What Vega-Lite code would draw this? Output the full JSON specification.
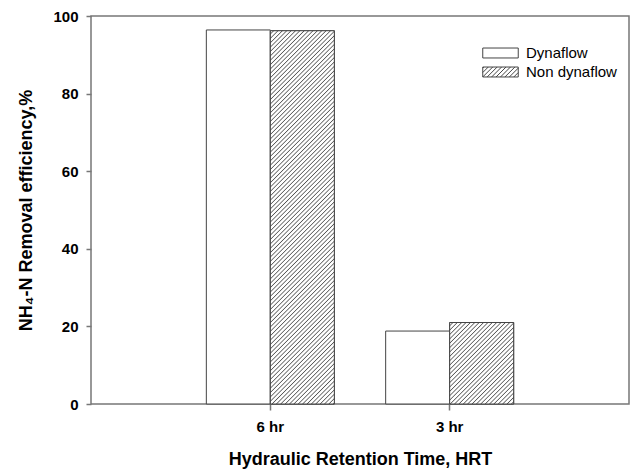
{
"$schema": "https://vega.github.io/schema/vega-lite/v6.json",
"width": 538,
"height": 388,
"autosize": {"type": "none"},
"padding": {"left": 91, "top": 16, "right": 6, "bottom": 65},
"background": "white",
"config": {
  "font": "Liberation Sans",
  "view": {"stroke": "#777", "strokeWidth": 1.5},
  "axis": {"grid": false, "domain": false, "tickColor": "#777", "tickWidth": 1.5, "labelColor": "#000", "titleColor": "#000", "labelFont": "Liberation Sans", "titleFont": "Liberation Sans", "labelFontWeight": "bold", "titleFontWeight": "bold", "labelFontSize": 15, "titleFontSize": 18}
},
"data": {"values": [
  {"HRT": "6 hr", "Series": "Dynaflow", "Removal": 96.4},
  {"HRT": "6 hr", "Series": "Non dynaflow", "Removal": 96.2},
  {"HRT": "3 hr", "Series": "Dynaflow", "Removal": 18.8},
  {"HRT": "3 hr", "Series": "Non dynaflow", "Removal": 21.0}
]},
"encoding": {
  "x": {"field": "HRT", "type": "nominal", "sort": ["6 hr", "3 hr"], "scale": {"paddingInner": 0.2862, "paddingOuter": 0.6431},
        "axis": {"title": "Hydraulic Retention Time, HRT", "labelAngle": 0, "tickSize": 6, "labelPadding": 9, "titlePadding": 16}},
  "xOffset": {"field": "Series", "type": "nominal", "sort": ["Dynaflow", "Non dynaflow"], "scale": {"paddingInner": 0, "paddingOuter": 0}},
  "y": {"field": "Removal", "type": "quantitative", "scale": {"domain": [0, 100], "nice": false},
        "axis": {"title": "NH₄-N Removal efficiency,%", "values": [0, 20, 40, 60, 80, 100], "tickSize": 5, "labelPadding": 8, "titlePadding": 17}}
},
"layer": [
  {
    "mark": {"type": "bar", "stroke": "#444", "strokeWidth": 1, "fill": "#ffffff"}
  },
  {
    "transform": [{"filter": "datum.Series === 'Non dynaflow' && datum.HRT === '6 hr'"}],
    "mark": {"type": "bar", "stroke": "#444", "strokeWidth": 1, "fill": {"gradient": "linear", "x1": 0, "y1": 0, "x2": 0.1951, "y2": 1.138, "stops": [
{"offset":0,"color":"#fff"},
{"offset":0.005,"color":"#fff"},{"offset":0.0075,"color":"#555"},{"offset":0.01,"color":"#fff"},
{"offset":0.015,"color":"#fff"},{"offset":0.0175,"color":"#555"},{"offset":0.02,"color":"#fff"},
{"offset":0.025,"color":"#fff"},{"offset":0.0275,"color":"#555"},{"offset":0.03,"color":"#fff"},
{"offset":0.035,"color":"#fff"},{"offset":0.0375,"color":"#555"},{"offset":0.04,"color":"#fff"},
{"offset":0.045,"color":"#fff"},{"offset":0.0475,"color":"#555"},{"offset":0.05,"color":"#fff"},
{"offset":0.055,"color":"#fff"},{"offset":0.0575,"color":"#555"},{"offset":0.06,"color":"#fff"},
{"offset":0.065,"color":"#fff"},{"offset":0.0675,"color":"#555"},{"offset":0.07,"color":"#fff"},
{"offset":0.075,"color":"#fff"},{"offset":0.0775,"color":"#555"},{"offset":0.08,"color":"#fff"},
{"offset":0.085,"color":"#fff"},{"offset":0.0875,"color":"#555"},{"offset":0.09,"color":"#fff"},
{"offset":0.095,"color":"#fff"},{"offset":0.0975,"color":"#555"},{"offset":0.1,"color":"#fff"},
{"offset":0.105,"color":"#fff"},{"offset":0.1075,"color":"#555"},{"offset":0.11,"color":"#fff"},
{"offset":0.115,"color":"#fff"},{"offset":0.1175,"color":"#555"},{"offset":0.12,"color":"#fff"},
{"offset":0.125,"color":"#fff"},{"offset":0.1275,"color":"#555"},{"offset":0.13,"color":"#fff"},
{"offset":0.135,"color":"#fff"},{"offset":0.1375,"color":"#555"},{"offset":0.14,"color":"#fff"},
{"offset":0.145,"color":"#fff"},{"offset":0.1475,"color":"#555"},{"offset":0.15,"color":"#fff"},
{"offset":0.155,"color":"#fff"},{"offset":0.1575,"color":"#555"},{"offset":0.16,"color":"#fff"},
{"offset":0.165,"color":"#fff"},{"offset":0.1675,"color":"#555"},{"offset":0.17,"color":"#fff"},
{"offset":0.175,"color":"#fff"},{"offset":0.1775,"color":"#555"},{"offset":0.18,"color":"#fff"},
{"offset":0.185,"color":"#fff"},{"offset":0.1875,"color":"#555"},{"offset":0.19,"color":"#fff"},
{"offset":0.195,"color":"#fff"},{"offset":0.1975,"color":"#555"},{"offset":0.2,"color":"#fff"},
{"offset":0.205,"color":"#fff"},{"offset":0.2075,"color":"#555"},{"offset":0.21,"color":"#fff"},
{"offset":0.215,"color":"#fff"},{"offset":0.2175,"color":"#555"},{"offset":0.22,"color":"#fff"},
{"offset":0.225,"color":"#fff"},{"offset":0.2275,"color":"#555"},{"offset":0.23,"color":"#fff"},
{"offset":0.235,"color":"#fff"},{"offset":0.2375,"color":"#555"},{"offset":0.24,"color":"#fff"},
{"offset":0.245,"color":"#fff"},{"offset":0.2475,"color":"#555"},{"offset":0.25,"color":"#fff"},
{"offset":0.255,"color":"#fff"},{"offset":0.2575,"color":"#555"},{"offset":0.26,"color":"#fff"},
{"offset":0.265,"color":"#fff"},{"offset":0.2675,"color":"#555"},{"offset":0.27,"color":"#fff"},
{"offset":0.275,"color":"#fff"},{"offset":0.2775,"color":"#555"},{"offset":0.28,"color":"#fff"},
{"offset":0.285,"color":"#fff"},{"offset":0.2875,"color":"#555"},{"offset":0.29,"color":"#fff"},
{"offset":0.295,"color":"#fff"},{"offset":0.2975,"color":"#555"},{"offset":0.3,"color":"#fff"},
{"offset":0.305,"color":"#fff"},{"offset":0.3075,"color":"#555"},{"offset":0.31,"color":"#fff"},
{"offset":0.315,"color":"#fff"},{"offset":0.3175,"color":"#555"},{"offset":0.32,"color":"#fff"},
{"offset":0.325,"color":"#fff"},{"offset":0.3275,"color":"#555"},{"offset":0.33,"color":"#fff"},
{"offset":0.335,"color":"#fff"},{"offset":0.3375,"color":"#555"},{"offset":0.34,"color":"#fff"},
{"offset":0.345,"color":"#fff"},{"offset":0.3475,"color":"#555"},{"offset":0.35,"color":"#fff"},
{"offset":0.355,"color":"#fff"},{"offset":0.3575,"color":"#555"},{"offset":0.36,"color":"#fff"},
{"offset":0.365,"color":"#fff"},{"offset":0.3675,"color":"#555"},{"offset":0.37,"color":"#fff"},
{"offset":0.375,"color":"#fff"},{"offset":0.3775,"color":"#555"},{"offset":0.38,"color":"#fff"},
{"offset":0.385,"color":"#fff"},{"offset":0.3875,"color":"#555"},{"offset":0.39,"color":"#fff"},
{"offset":0.395,"color":"#fff"},{"offset":0.3975,"color":"#555"},{"offset":0.4,"color":"#fff"},
{"offset":0.405,"color":"#fff"},{"offset":0.4075,"color":"#555"},{"offset":0.41,"color":"#fff"},
{"offset":0.415,"color":"#fff"},{"offset":0.4175,"color":"#555"},{"offset":0.42,"color":"#fff"},
{"offset":0.425,"color":"#fff"},{"offset":0.4275,"color":"#555"},{"offset":0.43,"color":"#fff"},
{"offset":0.435,"color":"#fff"},{"offset":0.4375,"color":"#555"},{"offset":0.44,"color":"#fff"},
{"offset":0.445,"color":"#fff"},{"offset":0.4475,"color":"#555"},{"offset":0.45,"color":"#fff"},
{"offset":0.455,"color":"#fff"},{"offset":0.4575,"color":"#555"},{"offset":0.46,"color":"#fff"},
{"offset":0.465,"color":"#fff"},{"offset":0.4675,"color":"#555"},{"offset":0.47,"color":"#fff"},
{"offset":0.475,"color":"#fff"},{"offset":0.4775,"color":"#555"},{"offset":0.48,"color":"#fff"},
{"offset":0.485,"color":"#fff"},{"offset":0.4875,"color":"#555"},{"offset":0.49,"color":"#fff"},
{"offset":0.495,"color":"#fff"},{"offset":0.4975,"color":"#555"},{"offset":0.5,"color":"#fff"},
{"offset":0.505,"color":"#fff"},{"offset":0.5075,"color":"#555"},{"offset":0.51,"color":"#fff"},
{"offset":0.515,"color":"#fff"},{"offset":0.5175,"color":"#555"},{"offset":0.52,"color":"#fff"},
{"offset":0.525,"color":"#fff"},{"offset":0.5275,"color":"#555"},{"offset":0.53,"color":"#fff"},
{"offset":0.535,"color":"#fff"},{"offset":0.5375,"color":"#555"},{"offset":0.54,"color":"#fff"},
{"offset":0.545,"color":"#fff"},{"offset":0.5475,"color":"#555"},{"offset":0.55,"color":"#fff"},
{"offset":0.555,"color":"#fff"},{"offset":0.5575,"color":"#555"},{"offset":0.56,"color":"#fff"},
{"offset":0.565,"color":"#fff"},{"offset":0.5675,"color":"#555"},{"offset":0.57,"color":"#fff"},
{"offset":0.575,"color":"#fff"},{"offset":0.5775,"color":"#555"},{"offset":0.58,"color":"#fff"},
{"offset":0.585,"color":"#fff"},{"offset":0.5875,"color":"#555"},{"offset":0.59,"color":"#fff"},
{"offset":0.595,"color":"#fff"},{"offset":0.5975,"color":"#555"},{"offset":0.6,"color":"#fff"},
{"offset":0.605,"color":"#fff"},{"offset":0.6075,"color":"#555"},{"offset":0.61,"color":"#fff"},
{"offset":0.615,"color":"#fff"},{"offset":0.6175,"color":"#555"},{"offset":0.62,"color":"#fff"},
{"offset":0.625,"color":"#fff"},{"offset":0.6275,"color":"#555"},{"offset":0.63,"color":"#fff"},
{"offset":0.635,"color":"#fff"},{"offset":0.6375,"color":"#555"},{"offset":0.64,"color":"#fff"},
{"offset":0.645,"color":"#fff"},{"offset":0.6475,"color":"#555"},{"offset":0.65,"color":"#fff"},
{"offset":0.655,"color":"#fff"},{"offset":0.6575,"color":"#555"},{"offset":0.66,"color":"#fff"},
{"offset":0.665,"color":"#fff"},{"offset":0.6675,"color":"#555"},{"offset":0.67,"color":"#fff"},
{"offset":0.675,"color":"#fff"},{"offset":0.6775,"color":"#555"},{"offset":0.68,"color":"#fff"},
{"offset":0.685,"color":"#fff"},{"offset":0.6875,"color":"#555"},{"offset":0.69,"color":"#fff"},
{"offset":0.695,"color":"#fff"},{"offset":0.6975,"color":"#555"},{"offset":0.7,"color":"#fff"},
{"offset":0.705,"color":"#fff"},{"offset":0.7075,"color":"#555"},{"offset":0.71,"color":"#fff"},
{"offset":0.715,"color":"#fff"},{"offset":0.7175,"color":"#555"},{"offset":0.72,"color":"#fff"},
{"offset":0.725,"color":"#fff"},{"offset":0.7275,"color":"#555"},{"offset":0.73,"color":"#fff"},
{"offset":0.735,"color":"#fff"},{"offset":0.7375,"color":"#555"},{"offset":0.74,"color":"#fff"},
{"offset":0.745,"color":"#fff"},{"offset":0.7475,"color":"#555"},{"offset":0.75,"color":"#fff"},
{"offset":0.755,"color":"#fff"},{"offset":0.7575,"color":"#555"},{"offset":0.76,"color":"#fff"},
{"offset":0.765,"color":"#fff"},{"offset":0.7675,"color":"#555"},{"offset":0.77,"color":"#fff"},
{"offset":0.775,"color":"#fff"},{"offset":0.7775,"color":"#555"},{"offset":0.78,"color":"#fff"},
{"offset":0.785,"color":"#fff"},{"offset":0.7875,"color":"#555"},{"offset":0.79,"color":"#fff"},
{"offset":0.795,"color":"#fff"},{"offset":0.7975,"color":"#555"},{"offset":0.8,"color":"#fff"},
{"offset":0.805,"color":"#fff"},{"offset":0.8075,"color":"#555"},{"offset":0.81,"color":"#fff"},
{"offset":0.815,"color":"#fff"},{"offset":0.8175,"color":"#555"},{"offset":0.82,"color":"#fff"},
{"offset":0.825,"color":"#fff"},{"offset":0.8275,"color":"#555"},{"offset":0.83,"color":"#fff"},
{"offset":0.835,"color":"#fff"},{"offset":0.8375,"color":"#555"},{"offset":0.84,"color":"#fff"},
{"offset":0.845,"color":"#fff"},{"offset":0.8475,"color":"#555"},{"offset":0.85,"color":"#fff"},
{"offset":0.855,"color":"#fff"},{"offset":0.8575,"color":"#555"},{"offset":0.86,"color":"#fff"},
{"offset":0.865,"color":"#fff"},{"offset":0.8675,"color":"#555"},{"offset":0.87,"color":"#fff"},
{"offset":0.875,"color":"#fff"},{"offset":0.8775,"color":"#555"},{"offset":0.88,"color":"#fff"},
{"offset":0.885,"color":"#fff"},{"offset":0.8875,"color":"#555"},{"offset":0.89,"color":"#fff"},
{"offset":0.895,"color":"#fff"},{"offset":0.8975,"color":"#555"},{"offset":0.9,"color":"#fff"},
{"offset":0.905,"color":"#fff"},{"offset":0.9075,"color":"#555"},{"offset":0.91,"color":"#fff"},
{"offset":0.915,"color":"#fff"},{"offset":0.9175,"color":"#555"},{"offset":0.92,"color":"#fff"},
{"offset":0.925,"color":"#fff"},{"offset":0.9275,"color":"#555"},{"offset":0.93,"color":"#fff"},
{"offset":0.935,"color":"#fff"},{"offset":0.9375,"color":"#555"},{"offset":0.94,"color":"#fff"},
{"offset":0.945,"color":"#fff"},{"offset":0.9475,"color":"#555"},{"offset":0.95,"color":"#fff"},
{"offset":0.955,"color":"#fff"},{"offset":0.9575,"color":"#555"},{"offset":0.96,"color":"#fff"},
{"offset":0.965,"color":"#fff"},{"offset":0.9675,"color":"#555"},{"offset":0.97,"color":"#fff"},
{"offset":0.975,"color":"#fff"},{"offset":0.9775,"color":"#555"},{"offset":0.98,"color":"#fff"},
{"offset":0.985,"color":"#fff"},{"offset":0.9875,"color":"#555"},{"offset":0.99,"color":"#fff"},
{"offset":0.995,"color":"#fff"},{"offset":0.9975,"color":"#555"},{"offset":1,"color":"#fff"}
    ]}}
  },
  {
    "transform": [{"filter": "datum.Series === 'Non dynaflow' && datum.HRT === '3 hr'"}],
    "mark": {"type": "bar", "stroke": "#444", "strokeWidth": 1, "fill": {"gradient": "linear", "x1": 0, "y1": 0, "x2": 2.6068, "y2": 3.3188, "stops": [
{"offset":0,"color":"#fff"},
{"offset":0.005,"color":"#fff"},{"offset":0.0075,"color":"#555"},{"offset":0.01,"color":"#fff"},
{"offset":0.015,"color":"#fff"},{"offset":0.0175,"color":"#555"},{"offset":0.02,"color":"#fff"},
{"offset":0.025,"color":"#fff"},{"offset":0.0275,"color":"#555"},{"offset":0.03,"color":"#fff"},
{"offset":0.035,"color":"#fff"},{"offset":0.0375,"color":"#555"},{"offset":0.04,"color":"#fff"},
{"offset":0.045,"color":"#fff"},{"offset":0.0475,"color":"#555"},{"offset":0.05,"color":"#fff"},
{"offset":0.055,"color":"#fff"},{"offset":0.0575,"color":"#555"},{"offset":0.06,"color":"#fff"},
{"offset":0.065,"color":"#fff"},{"offset":0.0675,"color":"#555"},{"offset":0.07,"color":"#fff"},
{"offset":0.075,"color":"#fff"},{"offset":0.0775,"color":"#555"},{"offset":0.08,"color":"#fff"},
{"offset":0.085,"color":"#fff"},{"offset":0.0875,"color":"#555"},{"offset":0.09,"color":"#fff"},
{"offset":0.095,"color":"#fff"},{"offset":0.0975,"color":"#555"},{"offset":0.1,"color":"#fff"},
{"offset":0.105,"color":"#fff"},{"offset":0.1075,"color":"#555"},{"offset":0.11,"color":"#fff"},
{"offset":0.115,"color":"#fff"},{"offset":0.1175,"color":"#555"},{"offset":0.12,"color":"#fff"},
{"offset":0.125,"color":"#fff"},{"offset":0.1275,"color":"#555"},{"offset":0.13,"color":"#fff"},
{"offset":0.135,"color":"#fff"},{"offset":0.1375,"color":"#555"},{"offset":0.14,"color":"#fff"},
{"offset":0.145,"color":"#fff"},{"offset":0.1475,"color":"#555"},{"offset":0.15,"color":"#fff"},
{"offset":0.155,"color":"#fff"},{"offset":0.1575,"color":"#555"},{"offset":0.16,"color":"#fff"},
{"offset":0.165,"color":"#fff"},{"offset":0.1675,"color":"#555"},{"offset":0.17,"color":"#fff"},
{"offset":0.175,"color":"#fff"},{"offset":0.1775,"color":"#555"},{"offset":0.18,"color":"#fff"},
{"offset":0.185,"color":"#fff"},{"offset":0.1875,"color":"#555"},{"offset":0.19,"color":"#fff"},
{"offset":0.195,"color":"#fff"},{"offset":0.1975,"color":"#555"},{"offset":0.2,"color":"#fff"},
{"offset":0.205,"color":"#fff"},{"offset":0.2075,"color":"#555"},{"offset":0.21,"color":"#fff"},
{"offset":0.215,"color":"#fff"},{"offset":0.2175,"color":"#555"},{"offset":0.22,"color":"#fff"},
{"offset":0.225,"color":"#fff"},{"offset":0.2275,"color":"#555"},{"offset":0.23,"color":"#fff"},
{"offset":0.235,"color":"#fff"},{"offset":0.2375,"color":"#555"},{"offset":0.24,"color":"#fff"},
{"offset":0.245,"color":"#fff"},{"offset":0.2475,"color":"#555"},{"offset":0.25,"color":"#fff"},
{"offset":0.255,"color":"#fff"},{"offset":0.2575,"color":"#555"},{"offset":0.26,"color":"#fff"},
{"offset":0.265,"color":"#fff"},{"offset":0.2675,"color":"#555"},{"offset":0.27,"color":"#fff"},
{"offset":0.275,"color":"#fff"},{"offset":0.2775,"color":"#555"},{"offset":0.28,"color":"#fff"},
{"offset":0.285,"color":"#fff"},{"offset":0.2875,"color":"#555"},{"offset":0.29,"color":"#fff"},
{"offset":0.295,"color":"#fff"},{"offset":0.2975,"color":"#555"},{"offset":0.3,"color":"#fff"},
{"offset":0.305,"color":"#fff"},{"offset":0.3075,"color":"#555"},{"offset":0.31,"color":"#fff"},
{"offset":0.315,"color":"#fff"},{"offset":0.3175,"color":"#555"},{"offset":0.32,"color":"#fff"},
{"offset":0.325,"color":"#fff"},{"offset":0.3275,"color":"#555"},{"offset":0.33,"color":"#fff"},
{"offset":0.335,"color":"#fff"},{"offset":0.3375,"color":"#555"},{"offset":0.34,"color":"#fff"}
    ]}}
  },
  {
    "mark": {"type": "point", "filled": false, "color": "#444", "strokeWidth": 1, "opacity": 0},
    "encoding": {
      "shape": {"field": "Series", "type": "nominal", "sort": ["Dynaflow", "Non dynaflow"],
        "scale": {"range": ["M-1,-0.28H1V0.28H-1Z", "M-1,-0.28H1V0.28H-1Z M-1,-0.22L-0.94,-0.28 M-1,0.03L-0.69,-0.28 M-1,0.28L-0.44,-0.28 M-0.75,0.28L-0.19,-0.28 M-0.5,0.28L0.06,-0.28 M-0.25,0.28L0.31,-0.28 M0,0.28L0.56,-0.28 M0.25,0.28L0.81,-0.28 M0.5,0.28L1,-0.22 M0.75,0.28L1,0.03"]},
        "legend": {"title": null, "orient": "none", "legendX": 391, "legendY": 27.5, "padding": 0, "symbolSize": 1260, "symbolStrokeWidth": 1, "symbolStrokeColor": "#444", "symbolOpacity": 1, "labelFontSize": 15, "labelFontWeight": "normal", "labelColor": "#000", "labelFont": "Liberation Sans", "labelOffset": 7, "rowPadding": 0, "clipHeight": 19}
      }
    }
  }
]
}
